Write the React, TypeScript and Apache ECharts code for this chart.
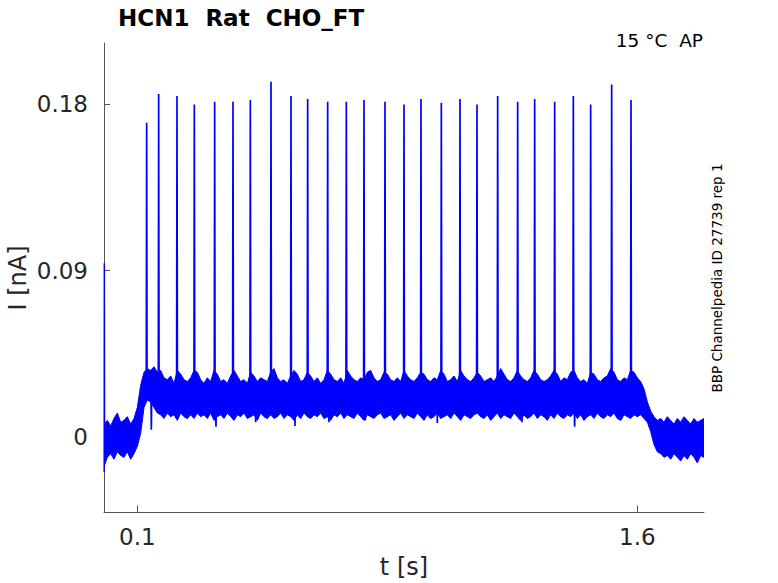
import React, { useEffect, useRef } from "react";
import * as echarts from "echarts";

// ---- data ----
const xTickValues = [0.1, 1.6];
const yTickValues = [0, 0.09, 0.18];

// spike times (s) and peak currents (nA)
const spikeTimes = [
  0.128, 0.164, 0.219, 0.271, 0.332, 0.387, 0.439, 0.501, 0.561, 0.611,
  0.671, 0.727, 0.78, 0.843, 0.9, 0.951, 1.012, 1.068, 1.119, 1.181,
  1.241, 1.292, 1.352, 1.408, 1.46, 1.523, 1.581,
];
const spikePeaks = [
  0.1699, 0.1854, 0.1843, 0.1798, 0.1812, 0.1812, 0.1822, 0.1921, 0.1843, 0.1827,
  0.1812, 0.1812, 0.1822, 0.1812, 0.1798, 0.1827, 0.1807, 0.1827, 0.1798, 0.1843,
  0.1812, 0.1827, 0.1812, 0.1843, 0.1798, 0.1906, 0.1822,
];

// occasional downward noise excursions (s, nA)
const dipTimes = [0.142, 0.336, 0.455, 0.573, 0.675, 0.784, 1.0, 1.254, 1.412, 1.553];
const dipValues = [0.004, 0.0055, 0.008, 0.006, 0.008, 0.009, 0.0076, 0.008, 0.0056, 0.01];

// noise band envelopes, sampled every 0.01 s from 0 to 1.8 s
const envStep = 0.01;
const upperEnv = [
  0.007, 0.009, 0.006, 0.01, 0.013, 0.008, 0.009, 0.011, 0.007, 0.01,
  0.016, 0.028, 0.035, 0.037, 0.036, 0.038, 0.035, 0.036, 0.032, 0.031,
  0.033, 0.029, 0.036, 0.034, 0.031, 0.03, 0.032, 0.036, 0.035, 0.031,
  0.029, 0.032, 0.03, 0.036, 0.034, 0.03, 0.031, 0.029, 0.033, 0.036,
  0.033, 0.03, 0.031, 0.029, 0.035, 0.033, 0.03, 0.032, 0.031, 0.03,
  0.035, 0.037, 0.032, 0.03, 0.031, 0.029, 0.033, 0.036, 0.034, 0.03,
  0.031, 0.035, 0.033, 0.03, 0.032, 0.029, 0.031, 0.036, 0.034, 0.031,
  0.03, 0.032, 0.029, 0.036, 0.033, 0.031, 0.03, 0.032, 0.031, 0.035,
  0.036, 0.032, 0.03, 0.031, 0.035, 0.034, 0.031, 0.03, 0.032, 0.03,
  0.036, 0.033, 0.031, 0.03, 0.032, 0.035, 0.034, 0.031, 0.03, 0.032,
  0.031, 0.036, 0.034, 0.03, 0.031, 0.033, 0.03, 0.036, 0.033, 0.031,
  0.03, 0.032, 0.035, 0.033, 0.03, 0.031, 0.032, 0.03, 0.033, 0.037,
  0.034, 0.031, 0.03, 0.032, 0.036, 0.033, 0.031, 0.03, 0.032, 0.036,
  0.034, 0.031, 0.03, 0.031, 0.033, 0.036, 0.034, 0.03, 0.032, 0.031,
  0.035, 0.036, 0.032, 0.03, 0.031, 0.029, 0.035, 0.034, 0.031, 0.03,
  0.032, 0.033, 0.037, 0.035, 0.031, 0.03, 0.032, 0.031, 0.036, 0.035,
  0.032, 0.03, 0.026, 0.019, 0.014, 0.011, 0.009, 0.01, 0.008, 0.011,
  0.009, 0.007, 0.01, 0.008, 0.011, 0.009, 0.007, 0.01, 0.008, 0.009,
  0.01,
];
const lowerEnv = [
  -0.016, -0.011, -0.009, -0.012, -0.008, -0.01, -0.011, -0.008, -0.012, -0.009,
  -0.005, 0.002, 0.016, 0.02, 0.019, 0.016, 0.013, 0.012, 0.01, 0.013,
  0.011, 0.012, 0.009, 0.013, 0.011, 0.01, 0.012, 0.01, 0.013, 0.011,
  0.012, 0.01, 0.013, 0.009, 0.011, 0.012, 0.01, 0.013, 0.011, 0.009,
  0.012, 0.011, 0.013, 0.01, 0.011, 0.012, 0.009, 0.013, 0.011, 0.01,
  0.012, 0.01, 0.011, 0.013, 0.01, 0.012, 0.011, 0.009, 0.012, 0.01,
  0.013, 0.011, 0.01, 0.012, 0.011, 0.013, 0.01, 0.011, 0.009, 0.012,
  0.011, 0.013, 0.01, 0.012, 0.011, 0.01, 0.013, 0.011, 0.009, 0.012,
  0.011, 0.01, 0.012, 0.013, 0.01, 0.011, 0.012, 0.009, 0.011, 0.013,
  0.01, 0.012, 0.011, 0.01, 0.013, 0.011, 0.009, 0.012, 0.01, 0.011,
  0.013, 0.01, 0.011, 0.012, 0.01, 0.013, 0.011, 0.009, 0.012, 0.011,
  0.01, 0.012, 0.013, 0.011, 0.01, 0.012, 0.009, 0.011, 0.013, 0.01,
  0.012, 0.011, 0.01, 0.013, 0.011, 0.009, 0.012, 0.01, 0.011, 0.013,
  0.01, 0.012, 0.011, 0.009, 0.012, 0.01, 0.013, 0.011, 0.01, 0.012,
  0.011, 0.013, 0.01, 0.012, 0.009, 0.011, 0.012, 0.01, 0.013, 0.011,
  0.01, 0.012, 0.011, 0.013, 0.01, 0.009, 0.012, 0.011, 0.01, 0.012,
  0.011, 0.012, 0.01, 0.008, 0.003, -0.004, -0.008, -0.009, -0.011, -0.01,
  -0.012, -0.009, -0.011, -0.013, -0.01, -0.012, -0.009, -0.011, -0.014, -0.01,
  -0.011,
];

// capacitive transient at the start (s, nA)
const transientTimes = [0.0006, 0.001, 0.0018];
const transientValues = [-0.019, 0.094, -0.012];

const BLUE = "#0000ff";
const TEXT = "#262626";
const FONT = '"DejaVu Sans", sans-serif';

export default function App() {
  const ref = useRef<HTMLDivElement>(null);

  useEffect(() => {
    if (!ref.current) return;
    const chart = echarts.init(ref.current, undefined, { renderer: "svg" });

    const events: { t: number; v: number }[] = [];
    spikeTimes.forEach((t, i) => events.push({ t, v: spikePeaks[i] }));
    dipTimes.forEach((t, i) => events.push({ t, v: dipValues[i] }));
    events.sort((a, b) => a.t - b.t);
    const base = 0.024;
    const spikeData: number[][] = [];
    events.forEach((e) => {
      spikeData.push([e.t - 0.0012, base], [e.t, e.v], [e.t + 0.0012, base]);
    });

    const envTimes = upperEnv.map((_, i) => i * envStep);

    const option: any = {
      animation: false,
      grid: { left: 104, right: 74, top: 43, bottom: 70.5, containLabel: false },
      xAxis: {
        type: "value",
        min: 0,
        max: 1.8,
        axisLine: { show: true, onZero: false, lineStyle: { color: "#555", width: 1 } },
        axisTick: {
          show: true,
          inside: true,
          length: 7,
          customValues: xTickValues,
          lineStyle: { color: "#555" },
        },
        axisLabel: {
          customValues: xTickValues,
          margin: 13,
          color: TEXT,
          fontSize: 23,
          fontFamily: FONT,
          formatter: (v: number) => String(v),
        },
        splitLine: { show: false },
      },
      yAxis: {
        type: "value",
        min: -0.0408,
        max: 0.213,
        axisLine: { show: true, onZero: false, lineStyle: { color: "#555", width: 1 } },
        axisTick: {
          show: true,
          inside: true,
          length: 6,
          customValues: yTickValues,
          lineStyle: { color: "#555" },
        },
        axisLabel: {
          customValues: yTickValues,
          margin: 16,
          color: TEXT,
          fontSize: 23,
          fontFamily: FONT,
          formatter: (v: number) => String(v),
        },
        splitLine: { show: false },
      },
      series: [
        {
          type: "custom",
          clip: true,
          data: [[0, 0]],
          z: 2,
          renderItem: (params: any, api: any) => {
            const pts: number[][] = [];
            for (let i = 0; i < envTimes.length; i++) pts.push(api.coord([envTimes[i], upperEnv[i]]));
            for (let i = envTimes.length - 1; i >= 0; i--) pts.push(api.coord([envTimes[i], lowerEnv[i]]));
            return {
              type: "polygon",
              shape: { points: pts },
              style: { fill: BLUE, stroke: BLUE, lineWidth: 1 },
            };
          },
        },
        {
          type: "line",
          data: spikeData,
          showSymbol: false,
          z: 3,
          lineStyle: { color: BLUE, width: 1.7 },
        },
        {
          type: "line",
          data: transientTimes.map((t, i) => [t, transientValues[i]]),
          showSymbol: false,
          z: 3,
          lineStyle: { color: BLUE, width: 1.5 },
        },
      ],
      graphic: [
        {
          type: "text",
          x: 118,
          y: 18,
          style: {
            text: "HCN1  Rat  CHO_FT",
            font: `bold 23px ${FONT}`,
            fill: "#000",
            textAlign: "left",
            textVerticalAlign: "middle",
          },
        },
        {
          type: "text",
          x: 703,
          y: 40,
          style: {
            text: "15 °C  AP",
            font: `18.5px ${FONT}`,
            fill: "#000",
            textAlign: "right",
            textVerticalAlign: "middle",
          },
        },
        {
          type: "text",
          x: 717,
          y: 278,
          rotation: Math.PI / 2,
          style: {
            text: "BBP Channelpedia ID 27739 rep 1",
            font: `13.5px ${FONT}`,
            fill: "#000",
            textAlign: "center",
            textVerticalAlign: "middle",
          },
        },
        {
          type: "text",
          x: 404,
          y: 567,
          style: {
            text: "t [s]",
            font: `24px ${FONT}`,
            fill: TEXT,
            textAlign: "center",
            textVerticalAlign: "middle",
          },
        },
        {
          type: "text",
          x: 18,
          y: 278,
          rotation: Math.PI / 2,
          style: {
            text: "I [nA]",
            font: `24px ${FONT}`,
            fill: TEXT,
            textAlign: "center",
            textVerticalAlign: "middle",
          },
        },
      ],
    };

    chart.setOption(option);
    return () => chart.dispose();
  }, []);

  return (
    <div
      ref={ref}
      style={{ position: "absolute", left: 0, top: 0, width: 778, height: 583 }}
    />
  );
}
